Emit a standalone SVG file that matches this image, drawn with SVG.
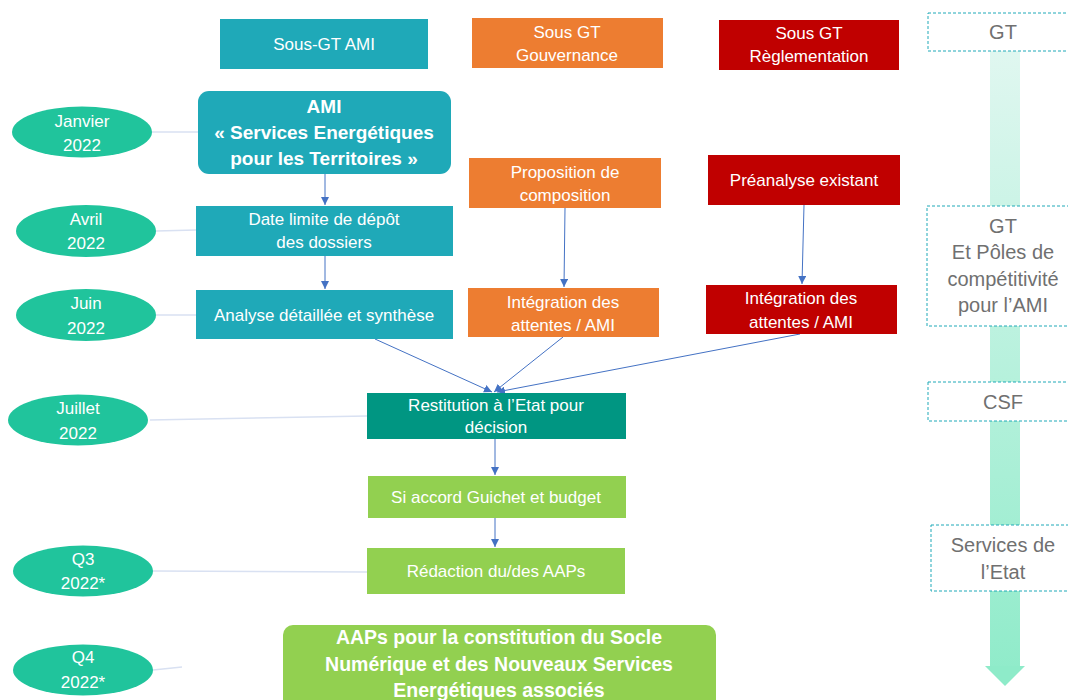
<svg xmlns="http://www.w3.org/2000/svg" width="1068" height="700" viewBox="0 0 1068 700">
<defs>
<linearGradient id="flow" x1="0" y1="51" x2="0" y2="686" gradientUnits="userSpaceOnUse">
<stop offset="0" stop-color="#e0f7f0"/>
<stop offset="1" stop-color="#8eebc9"/>
</linearGradient>
<marker id="ah" viewBox="0 0 10 10" refX="10" refY="5" markerWidth="8" markerHeight="8" markerUnits="userSpaceOnUse" orient="auto">
<path d="M0,0 L10,5 L0,10 z" fill="#4472c4"/>
</marker>
<style>
text{font-family:"Liberation Sans","Open Sans",sans-serif;fill:#fff;text-anchor:middle;font-size:17px}
.b{font-weight:bold;font-size:19px}
.b2{font-weight:bold;font-size:19.5px}
.g{fill:#707070;font-size:20px}
.teal{fill:#1fa9b8}
.or{fill:#ed7d31}
.red{fill:#c00000}
.grn{fill:#92d050}
.ell{fill:#20c49c}
.dash{fill:#fff;stroke:#1fa9b8;stroke-width:1;stroke-dasharray:3,2}
.conn{stroke:#4472c4;stroke-width:1;fill:none;marker-end:url(#ah)}
.tl{stroke:#d9e1f2;stroke-width:1.5;fill:none}
</style>
</defs>
<rect width="1068" height="700" fill="#fff"/>
<g id="flow-arrow">
<rect x="990" y="51" width="30" height="616" fill="url(#flow)"/>
<path d="M985,666 L1025,666 L1005,686 z" fill="#8eebc9"/>
</g>
<g id="timeline-links">
<line class="tl" x1="152" y1="132" x2="198" y2="132"/>
<line class="tl" x1="156" y1="231" x2="196" y2="230"/>
<line class="tl" x1="156" y1="315" x2="196" y2="315"/>
<line class="tl" x1="150" y1="420" x2="367" y2="416"/>
<line class="tl" x1="153" y1="571" x2="367" y2="572"/>
<line class="tl" x1="153" y1="670" x2="182" y2="667"/>
</g>
<g id="connectors">
<line class="conn" x1="325" y1="174" x2="325" y2="205"/>
<line class="conn" x1="325" y1="256" x2="325" y2="289"/>
<line class="conn" x1="565" y1="208" x2="564" y2="287"/>
<line class="conn" x1="804" y1="205" x2="802" y2="284"/>
<line class="conn" x1="375" y1="339" x2="492" y2="392"/>
<line class="conn" x1="563" y1="337" x2="494" y2="392"/>
<line class="conn" x1="800" y1="334" x2="497" y2="392"/>
<line class="conn" x1="495" y1="439" x2="495" y2="475"/>
<line class="conn" x1="495" y1="518" x2="495" y2="547"/>
</g>
<g id="sous-gt-ami"><rect class="teal" x="220" y="19" width="208" height="50"/><text x="324" y="50">Sous-GT AMI</text></g>
<g id="sous-gt-gouvernance"><rect class="or" x="472" y="18" width="191" height="50"/><text x="567" y="38">Sous GT</text><text x="567" y="61">Gouvernance</text></g>
<g id="sous-gt-reglementation"><rect class="red" x="719" y="20" width="180" height="50"/><text x="809" y="39">Sous GT</text><text x="809" y="62">Règlementation</text></g>
<g id="gt"><rect class="dash" x="928" y="13" width="150" height="38"/><text class="g" x="1003" y="39">GT</text></g>
<g id="gt-poles"><rect class="dash" x="927" y="206" width="150" height="120"/><text class="g" x="1003" y="233">GT</text><text class="g" x="1003" y="259">Et Pôles de</text><text class="g" x="1003" y="286">compétitivité</text><text class="g" x="1003" y="312">pour l’AMI</text></g>
<g id="csf"><rect class="dash" x="928" y="382" width="150" height="39"/><text class="g" x="1003" y="409">CSF</text></g>
<g id="services-etat"><rect class="dash" x="931" y="525" width="150" height="66"/><text class="g" x="1003" y="552">Services de</text><text class="g" x="1003" y="579">l’Etat</text></g>
<g id="janvier"><ellipse class="ell" cx="82" cy="132" rx="70" ry="25.5"/><text x="82" y="127">Janvier</text><text x="82" y="151">2022</text></g>
<g id="avril"><ellipse class="ell" cx="86" cy="231" rx="70" ry="26"/><text x="86" y="225">Avril</text><text x="86" y="249">2022</text></g>
<g id="juin"><ellipse class="ell" cx="86" cy="315" rx="70" ry="26"/><text x="86" y="309">Juin</text><text x="86" y="334">2022</text></g>
<g id="juillet"><ellipse class="ell" cx="78" cy="420" rx="70" ry="25.5"/><text x="78" y="414">Juillet</text><text x="78" y="439">2022</text></g>
<g id="q3"><ellipse class="ell" cx="83" cy="571" rx="70" ry="25.5"/><text x="83" y="565">Q3</text><text x="83" y="589">2022*</text></g>
<g id="q4"><ellipse class="ell" cx="83" cy="670" rx="70" ry="25.5"/><text x="83" y="663">Q4</text><text x="83" y="688">2022*</text></g>
<g id="ami"><rect class="teal" x="198" y="91" width="253" height="83" rx="11"/><text class="b" x="324" y="113">AMI</text><text class="b" x="324" y="139">« Services Energétiques</text><text class="b" x="324" y="165">pour les Territoires »</text></g>
<g id="date-limite"><rect class="teal" x="196" y="206" width="257" height="50"/><text x="324" y="225">Date limite de dépôt</text><text x="324" y="248">des dossiers</text></g>
<g id="analyse"><rect class="teal" x="196" y="290" width="257" height="49"/><text x="324" y="321">Analyse détaillée et synthèse</text></g>
<g id="proposition"><rect class="or" x="469" y="158" width="192" height="50"/><text x="565" y="178">Proposition de</text><text x="565" y="201">composition</text></g>
<g id="integration-or"><rect class="or" x="468" y="288" width="191" height="49"/><text x="563" y="308">Intégration des</text><text x="563" y="331">attentes / AMI</text></g>
<g id="preanalyse"><rect class="red" x="708" y="155" width="192" height="50"/><text x="804" y="186">Préanalyse existant</text></g>
<g id="integration-red"><rect class="red" x="706" y="285" width="191" height="49"/><text x="801" y="304">Intégration des</text><text x="801" y="328">attentes / AMI</text></g>
<g id="restitution"><rect x="367" y="393" width="259" height="46" fill="#009682"/><text x="496" y="411">Restitution à l’Etat pour</text><text x="496" y="433">décision</text></g>
<g id="si-accord"><rect class="grn" x="368" y="476" width="258" height="42"/><text x="496" y="503">Si accord Guichet et budget</text></g>
<g id="redaction"><rect class="grn" x="367" y="548" width="258" height="46"/><text x="496" y="577">Rédaction du/des AAPs</text></g>
<g id="aaps"><rect class="grn" x="283" y="625" width="433" height="90" rx="10"/><text class="b2" x="499" y="644">AAPs pour la constitution du Socle</text><text class="b2" x="499" y="671">Numérique et des Nouveaux Services</text><text class="b2" x="499" y="697">Energétiques associés</text></g>
</svg>
